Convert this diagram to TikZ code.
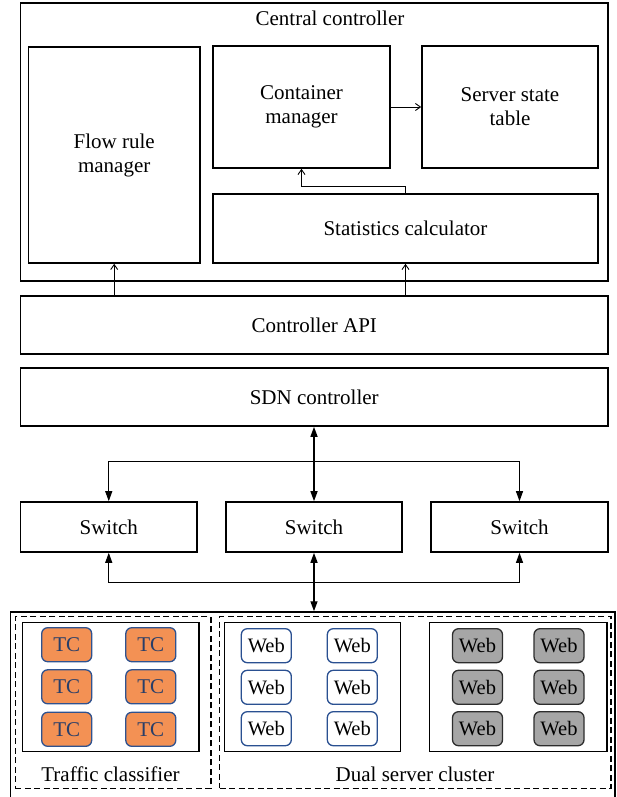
\documentclass[tikz,border=0pt]{standalone}
\usepackage{fontspec}
\setmainfont{Liberation Serif}
\usetikzlibrary{arrows.meta,positioning}
\definecolor{tcfill}{RGB}{243,145,84}
\definecolor{tcborder}{RGB}{47,82,143}
\definecolor{tctext}{RGB}{40,62,105}
\definecolor{webborder}{RGB}{42,80,145}
\definecolor{grayfill}{RGB}{166,166,166}
\definecolor{grayborder}{RGB}{45,45,45}
\tikzset{
  box/.style={draw=black, line width=1.6pt, inner sep=0pt, align=center,
    font=\fontsize{21}{24}\selectfont},
  dashbox/.style={draw=black, line width=1.3pt, dash pattern=on 6pt off 3.5pt, inner sep=0pt},
  solidbox/.style={draw=black, line width=1.2pt, inner sep=0pt},
  tcnode/.style={draw=tcborder, fill=tcfill, line width=1.3pt, rounded corners=6pt,
    minimum width=50pt, minimum height=34pt, inner sep=0pt, text=tctext,
    font=\fontsize{21}{24}\selectfont},
  webnode/.style={draw=webborder, fill=white, line width=1.3pt, rounded corners=6pt,
    minimum width=50pt, minimum height=34pt, inner sep=0pt,
    font=\fontsize{20.5}{24}\selectfont},
  graynode/.style={draw=grayborder, fill=grayfill, line width=1.3pt, rounded corners=6pt,
    minimum width=50pt, minimum height=34pt, inner sep=0pt,
    font=\fontsize{20.5}{24}\selectfont},
  lbl/.style={inner sep=0pt, font=\fontsize{21}{24}\selectfont},
  openarr/.style={line width=0.9pt, -{Straight Barb[length=5pt,width=7pt]}},
  fillarr/.style={line width=1pt, {Triangle[length=10pt,width=7pt]}-{Triangle[length=10pt,width=7pt]}},
}
\begin{document}
\begin{tikzpicture}[x=1pt,y=-1pt]
\useasboundingbox (0,0) rectangle (617,797);
% Central controller
\node[box, minimum width=587.5pt, minimum height=277.4pt] (cc) at (314.25,142) {};
\node[lbl] (cctitle) at (330,18) {Central controller};
\node[box, minimum width=171.6pt, minimum height=216pt] (frm) at (114.2,155) {Flow rule\\manager};
\node[box, minimum width=177pt, minimum height=122pt] (cm) at (301.5,107) {Container\\manager};
\node[box, minimum width=176pt, minimum height=122pt] (sst) at (510,107) {Server state\\table};
\node[box, minimum width=385pt, minimum height=69pt] (stats) at (405.5,228.5) {Statistics calculator};
\draw[openarr] (cm.east) -- (sst.west);
\draw[openarr] (stats.north) -- ++(0,-7) -| (cm.south);
% API and SDN
\node[box, minimum width=587.5pt, minimum height=58pt] (api) at (314.25,325) {Controller API};
\node[box, minimum width=587.5pt, minimum height=58pt] (sdn) at (314.25,397) {SDN controller};
\draw[openarr] (frm.south |- api.north) -- (frm.south);
\draw[openarr] (stats.south |- api.north) -- (stats.south);
% Switches
\node[box, minimum width=176.5pt, minimum height=50pt] (sw1) at (108.75,527) {Switch};
\node[box, minimum width=176pt, minimum height=50pt] (sw2) at (314,527) {Switch};
\node[box, minimum width=177pt, minimum height=50pt] (sw3) at (519.5,527) {Switch};
\draw[fillarr, line width=1.4pt] (sdn.south -| sw2.north) -- (sw2.north);
\draw[fillarr] (sw1.north) -- ++(0,-40) -| (sw3.north);
\draw[fillarr] (sw1.south) -- ++(0,30) -| (sw3.south);
% Cluster
\node[solidbox, line width=1.5pt, minimum width=604.6pt, minimum height=193pt] (cluster) at (312.7,708.5) {};
\draw[fillarr, line width=1.4pt] (sw2.south) -- (sw2.south |- cluster.north);
\node[dashbox, minimum width=195.5pt, minimum height=171.5pt] (tcdash) at (113.2,702.5) {};
\node[dashbox, minimum width=391.5pt, minimum height=171.5pt] (dsdash) at (415.3,702.5) {};
\node[solidbox, minimum width=176.4pt, minimum height=129.5pt] (tcbox) at (110.8,687) {};
\node[solidbox, minimum width=176.3pt, minimum height=129.5pt] (wbox1) at (312.5,687) {};
\node[solidbox, minimum width=177.3pt, minimum height=129.5pt] (wbox2) at (518.3,687) {};
\node[lbl] (tclabel) at (110.5,774) {Traffic classifier};
\node[lbl] (dslabel) at (415,774) {Dual server cluster};
% TC nodes
\node[tcnode] (tc11) at (66.7,644.7) {TC};
\node[tcnode] (tc12) at (150.8,644.7) {TC};
\node[tcnode] (tc21) at (66.7,686.8) {TC};
\node[tcnode] (tc22) at (150.8,686.8) {TC};
\node[tcnode] (tc31) at (66.7,729.3) {TC};
\node[tcnode] (tc32) at (150.8,729.3) {TC};
% White web nodes
\node[webnode] (w11) at (266.3,645.7) {Web};
\node[webnode] (w12) at (352.3,645.7) {Web};
\node[webnode] (w21) at (266.3,687.3) {Web};
\node[webnode] (w22) at (352.3,687.3) {Web};
\node[webnode] (w31) at (266.3,728.7) {Web};
\node[webnode] (w32) at (352.3,728.7) {Web};
% Gray web nodes
\node[graynode] (g11) at (477.5,645.7) {Web};
\node[graynode] (g12) at (559,645.7) {Web};
\node[graynode] (g21) at (477.5,687.3) {Web};
\node[graynode] (g22) at (559,687.3) {Web};
\node[graynode] (g31) at (477.5,728.7) {Web};
\node[graynode] (g32) at (559,728.7) {Web};
\end{tikzpicture}
\end{document}
